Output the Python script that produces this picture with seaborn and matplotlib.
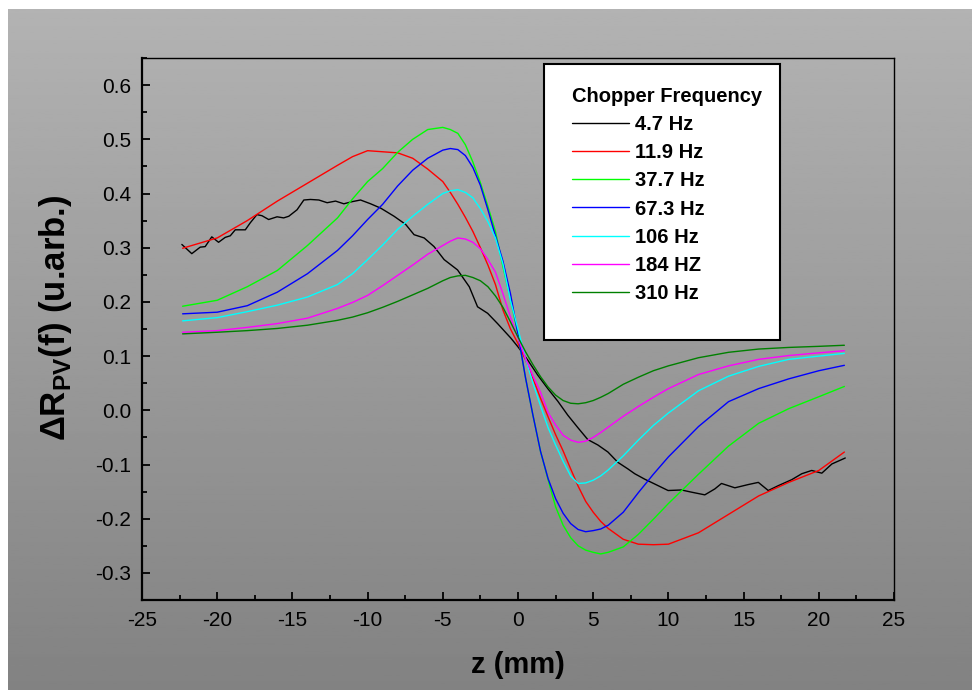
import numpy as np
import pandas as pd
import matplotlib
matplotlib.use("Agg")
import matplotlib.pyplot as plt
import seaborn as sns
from matplotlib.patches import Rectangle
from matplotlib.ticker import MultipleLocator, FuncFormatter

# z positions (mm) shared by the smooth curves
z_grid = [-22.3, -20, -18, -16, -14, -12, -11, -10, -9, -8, -7, -6, -5, -4.5, -4,
          -3.5, -3, -2.5, -2, -1.5, -1, -0.5, 0, 0.5, 1, 1.5, 2, 2.5, 3, 3.5, 4,
          4.5, 5, 5.5, 6, 7, 8, 9, 10, 12, 14, 16, 18, 20, 21.7]

r_11_9 = [0.299, 0.318, 0.350, 0.386, 0.419, 0.452, 0.468, 0.479, 0.477, 0.475, 0.465,
          0.445, 0.422, 0.402, 0.380, 0.356, 0.330, 0.300, 0.268, 0.232, 0.185, 0.150,
          0.123, 0.093, 0.058, 0.022, -0.012, -0.045, -0.075, -0.108, -0.140, -0.168,
          -0.188, -0.205, -0.218, -0.238, -0.247, -0.248, -0.247, -0.226, -0.192,
          -0.158, -0.133, -0.111, -0.077]

r_37_7 = [0.192, 0.203, 0.228, 0.258, 0.304, 0.355, 0.390, 0.422, 0.446, 0.476, 0.500,
          0.518, 0.522, 0.518, 0.511, 0.490, 0.458, 0.420, 0.376, 0.330, 0.265, 0.205,
          0.140, 0.060, -0.010, -0.076, -0.128, -0.178, -0.212, -0.235, -0.250, -0.258,
          -0.262, -0.265, -0.262, -0.252, -0.229, -0.201, -0.172, -0.118, -0.066,
          -0.024, 0.003, 0.025, 0.044]

r_67_3 = [0.178, 0.181, 0.193, 0.218, 0.252, 0.295, 0.322, 0.352, 0.380, 0.414, 0.443,
          0.465, 0.480, 0.483, 0.481, 0.470, 0.448, 0.415, 0.370, 0.322, 0.275, 0.215,
          0.140, 0.060, -0.010, -0.076, -0.126, -0.163, -0.190, -0.209, -0.220, -0.224,
          -0.222, -0.219, -0.212, -0.188, -0.152, -0.118, -0.086, -0.030, 0.016,
          0.040, 0.058, 0.073, 0.083]

r_106 = [0.165, 0.171, 0.182, 0.194, 0.209, 0.232, 0.252, 0.278, 0.305, 0.334, 0.358,
         0.380, 0.400, 0.405, 0.407, 0.402, 0.392, 0.372, 0.348, 0.318, 0.270, 0.202,
         0.150, 0.095, 0.050, 0.008, -0.032, -0.064, -0.094, -0.121, -0.135, -0.134,
         -0.129, -0.121, -0.110, -0.084, -0.055, -0.028, -0.005, 0.036, 0.063,
         0.081, 0.094, 0.100, 0.105]

r_184 = [0.144, 0.147, 0.153, 0.160, 0.170, 0.188, 0.199, 0.212, 0.230, 0.249, 0.268,
         0.288, 0.304, 0.312, 0.318, 0.316, 0.310, 0.298, 0.278, 0.255, 0.215, 0.172,
         0.133, 0.096, 0.063, 0.033, -0.004, -0.027, -0.046, -0.055, -0.059, -0.057,
         -0.050, -0.041, -0.031, -0.011, 0.007, 0.024, 0.040, 0.066, 0.082,
         0.094, 0.101, 0.106, 0.110]

r_310 = [0.141, 0.144, 0.147, 0.151, 0.157, 0.166, 0.172, 0.180, 0.190, 0.201, 0.213,
         0.225, 0.239, 0.245, 0.248, 0.249, 0.245, 0.239, 0.228, 0.211, 0.190, 0.163,
         0.135, 0.108, 0.084, 0.062, 0.043, 0.028, 0.018, 0.013, 0.012, 0.014,
         0.018, 0.024, 0.031, 0.048, 0.061, 0.073, 0.082, 0.097, 0.107,
         0.113, 0.116, 0.118, 0.120]

# 4.7 Hz is noisy, sampled on its own z points
z_4_7 = [-22.35, -21.69, -21.13, -20.8, -20.36, -19.91, -19.47, -19.13, -18.8, -18.13,
         -17.8, -17.36, -17.02, -16.58, -16.02, -15.58, -15.24, -14.69, -14.24, -13.8,
         -13.24, -12.69, -12.13, -11.58, -11.02, -10.47, -9.8, -9.13, -8.24, -7.47,
         -6.91, -6.24, -5.58, -4.91, -4.02, -3.24, -2.69, -2.02, -1.36, -0.47, 0.0,
         0.64, 1.31, 1.98, 2.64, 3.31, 3.98, 4.64, 5.31, 5.98, 6.64, 7.3, 7.76, 8.42,
         9.09, 9.98, 10.87, 11.53, 12.42, 13.09, 13.53, 14.42, 15.31, 15.98, 16.64,
         17.31, 18.2, 18.87, 19.53, 20.2, 20.87, 21.76]
r_4_7 = [0.306, 0.289, 0.301, 0.302, 0.320, 0.310, 0.319, 0.322, 0.333, 0.333,
         0.346, 0.361, 0.359, 0.352, 0.357, 0.355, 0.358, 0.370, 0.388, 0.389,
         0.388, 0.383, 0.386, 0.381, 0.385, 0.388, 0.381, 0.373, 0.358, 0.343,
         0.324, 0.318, 0.302, 0.278, 0.259, 0.228, 0.191, 0.179, 0.160, 0.133, 0.117,
         0.093, 0.065, 0.040, 0.017, -0.009, -0.032, -0.054, -0.064, -0.077, -0.096,
         -0.108, -0.117, -0.127, -0.136, -0.148, -0.147, -0.151, -0.156, -0.145,
         -0.135, -0.143, -0.137, -0.133, -0.148, -0.139, -0.128, -0.117, -0.111,
         -0.116, -0.099, -0.088]

labels = ["4.7 Hz", "11.9 Hz", "37.7 Hz", "67.3 Hz", "106 Hz", "184 HZ", "310 Hz"]
colors = ["#000000", "#ff0000", "#00ff00", "#0000ff", "#00ffff", "#ff00ff", "#008000"]

frames = [pd.DataFrame({"z": z_4_7, "r": r_4_7, "freq": labels[0]})]
for lab, vals in zip(labels[1:], [r_11_9, r_37_7, r_67_3, r_106, r_184, r_310]):
    frames.append(pd.DataFrame({"z": z_grid, "r": vals, "freq": lab}))
df = pd.concat(frames, ignore_index=True)

sns.set_style("ticks")
plt.rcParams["font.family"] = ["Liberation Sans", "DejaVu Sans"]
plt.rcParams["axes.unicode_minus"] = False
plt.rcParams["mathtext.fontset"] = "custom"
plt.rcParams["mathtext.rm"] = "Liberation Sans"
plt.rcParams["mathtext.bf"] = "Liberation Sans:bold"

fig = plt.figure(figsize=(9.72, 6.9), dpi=100)
fig.patch.set_facecolor("white")

# grey gradient backdrop
bg = fig.add_axes([8 / 972, 0, 964 / 972, 681 / 690])
grad = np.linspace(0.70, 0.51, 256).reshape(-1, 1)
bg.imshow(grad, cmap="gray", vmin=0, vmax=1, aspect="auto", extent=[0, 1, 0, 1])
bg.axis("off")

ax = fig.add_axes([142 / 972, 90 / 690, 752 / 972, 542 / 690])
ax.set_facecolor("none")

sns.lineplot(data=df, x="z", y="r", hue="freq", hue_order=labels,
             palette=dict(zip(labels, colors)), estimator=None, sort=False,
             lw=1.0, ax=ax)

ax.set_xlim(-25, 25)
ax.set_ylim(-0.35, 0.65)
ax.xaxis.set_major_locator(MultipleLocator(5))
ax.xaxis.set_minor_locator(MultipleLocator(2.5))
ax.yaxis.set_major_locator(MultipleLocator(0.1))
ax.yaxis.set_minor_locator(MultipleLocator(0.05))
ax.yaxis.set_major_formatter(FuncFormatter(lambda v, p: "0.0" if abs(v) < 1e-9 else f"{v:.1f}"))
ax.tick_params(which="both", direction="in", top=False, right=False,
               width=1.3, color="black", labelsize=15, labelcolor="black", pad=8)
ax.tick_params(which="major", length=6)
ax.tick_params(which="minor", length=3.5)
for side in ["left", "bottom"]:
    ax.spines[side].set_linewidth(1.6)
for side in ["top", "right"]:
    ax.spines[side].set_linewidth(1.0)
for s in ax.spines.values():
    s.set_color("black")

ax.set_xlabel("z (mm)", fontsize=21, fontweight="bold", color="black")
ax.xaxis.set_label_coords(0.5, -0.094)
ax.set_ylabel(r"ΔR$_\mathbf{PV}$(f) (u.arb.)", fontsize=25, fontweight="bold", color="black")
ax.yaxis.set_label_coords(-0.09, 0.52)

# legend box
ax.add_patch(Rectangle((0.535, 0.48), 0.313, 0.509, transform=ax.transAxes,
                       facecolor="white", edgecolor="black", lw=1.5, zorder=5))
handles, labs = ax.get_legend_handles_labels()
leg = ax.legend(handles, labs, title="Chopper Frequency", loc="upper left",
                bbox_to_anchor=(0.572, 0.946), frameon=False,
                prop={"weight": "bold", "size": 14.5},
                title_fontproperties={"weight": "bold", "size": 14.5},
                handlelength=2.8, handletextpad=0.3, labelspacing=0.45,
                alignment="left", borderpad=0, borderaxespad=0)
leg.set_zorder(6)
for t in leg.get_texts():
    t.set_color("black")
leg.get_title().set_color("black")

fig.savefig("out.png", dpi=100)
